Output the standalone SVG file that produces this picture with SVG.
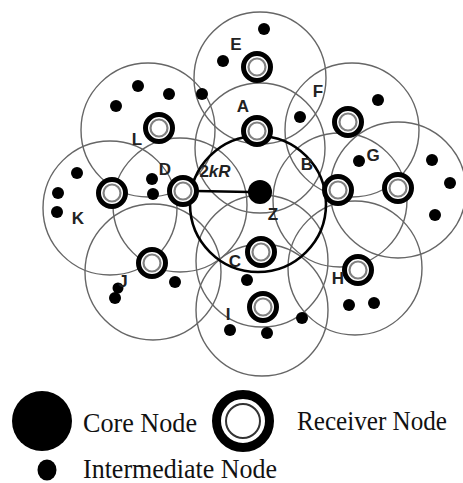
<svg xmlns="http://www.w3.org/2000/svg" xmlns:xlink="http://www.w3.org/1999/xlink" width="463" height="483" viewBox="0 0 463 483">
<style>
.rng{fill:none;stroke:#666;stroke-width:1.4}
.thick{fill:none;stroke:#000;stroke-width:2.6}
.dot{fill:#000}
.lbl{font-family:"Liberation Sans",Arial,sans-serif;font-size:17px;font-weight:bold;fill:#222;text-anchor:middle}
.leg{font-family:"Liberation Serif","Times New Roman",serif;font-size:27px;fill:#111}
</style>
<defs>
<g id="rx">
<circle r="13.5" fill="#fff" stroke="#000" stroke-width="5"/>
<circle r="8.5" fill="#fff" stroke="#808080" stroke-width="2.2"/>
</g>
</defs>
<rect width="463" height="483" fill="#fff"/>
<g id="ranges">
<circle class="rng" cx="260" cy="78" r="66"/>
<circle class="rng" cx="260" cy="148" r="65"/>
<circle class="rng" cx="352" cy="130" r="67"/>
<circle class="rng" cx="148" cy="130" r="67"/>
<circle class="rng" cx="398" cy="190" r="68"/>
<circle class="rng" cx="340" cy="200" r="67"/>
<circle class="rng" cx="180" cy="205" r="67"/>
<circle class="rng" cx="110" cy="208" r="67"/>
<circle class="rng" cx="262" cy="261" r="66"/>
<circle class="rng" cx="153" cy="272" r="68"/>
<circle class="rng" cx="355" cy="268" r="67"/>
<circle class="rng" cx="262" cy="310" r="66"/>
<circle class="thick" cx="258" cy="204" r="68"/>
</g>
<g id="connectors">
<line x1="196" y1="191" x2="250" y2="192" stroke="#000" stroke-width="2.6"/>
</g>
<g id="intermediate">
<circle class="dot" cx="264" cy="29" r="6"/>
<circle class="dot" cx="223" cy="61" r="6"/>
<circle class="dot" cx="138" cy="86" r="6"/>
<circle class="dot" cx="169" cy="94" r="6"/>
<circle class="dot" cx="202" cy="94" r="6"/>
<circle class="dot" cx="116" cy="106" r="6"/>
<circle class="dot" cx="300" cy="117" r="6"/>
<circle class="dot" cx="378" cy="100" r="6"/>
<circle class="dot" cx="359" cy="161" r="6"/>
<circle class="dot" cx="432" cy="160" r="6"/>
<circle class="dot" cx="450" cy="183" r="6"/>
<circle class="dot" cx="435" cy="215" r="6"/>
<circle class="dot" cx="77" cy="173" r="6"/>
<circle class="dot" cx="58" cy="193" r="6"/>
<circle class="dot" cx="57" cy="212" r="6"/>
<circle class="dot" cx="152" cy="179" r="6"/>
<circle class="dot" cx="153" cy="194" r="6"/>
<circle class="dot" cx="175" cy="282" r="6"/>
<circle class="dot" cx="118" cy="288" r="5.5"/>
<circle class="dot" cx="115" cy="298" r="6"/>
<circle class="dot" cx="247" cy="280" r="6"/>
<circle class="dot" cx="230" cy="330" r="6"/>
<circle class="dot" cx="267" cy="333" r="6"/>
<circle class="dot" cx="302" cy="318" r="6"/>
<circle class="dot" cx="349" cy="305" r="6"/>
<circle class="dot" cx="374" cy="303" r="6"/>
</g>
<g id="node-Z"><circle cx="260" cy="192" r="12" fill="#000"/><text class="lbl" x="273" y="220">Z</text></g>
<g id="node-E"><use xlink:href="#rx" x="257" y="67"/><text class="lbl" x="236" y="50">E</text></g>
<g id="node-A"><use xlink:href="#rx" x="257" y="131"/><text class="lbl" x="243" y="112">A</text></g>
<g id="node-F"><use xlink:href="#rx" x="348" y="122"/><text class="lbl" x="318" y="97">F</text></g>
<g id="node-L"><use xlink:href="#rx" x="159" y="128"/><text class="lbl" x="137" y="145">L</text></g>
<g id="node-G"><use xlink:href="#rx" x="398" y="188"/><text class="lbl" x="373" y="161">G</text></g>
<g id="node-B"><use xlink:href="#rx" x="338" y="190"/><text class="lbl" x="307" y="170">B</text></g>
<g id="node-D"><use xlink:href="#rx" x="183" y="191"/><text class="lbl" x="165" y="175">D</text><text class="lbl" x="215" y="177">2<tspan font-style="italic">kR</tspan></text></g>
<g id="node-K"><use xlink:href="#rx" x="112" y="193"/><text class="lbl" x="78" y="224">K</text></g>
<g id="node-C"><use xlink:href="#rx" x="261" y="252"/><text class="lbl" x="235" y="267">C</text></g>
<g id="node-J"><use xlink:href="#rx" x="152" y="263"/><text class="lbl" x="123" y="287">J</text></g>
<g id="node-H"><use xlink:href="#rx" x="358" y="270"/><text class="lbl" x="338" y="284">H</text></g>
<g id="node-I"><use xlink:href="#rx" x="263" y="307"/><text class="lbl" x="228" y="320">I</text></g>
<g id="legend">
<circle cx="42" cy="421" r="30" fill="#000"/>
<text class="leg" x="83" y="432" textLength="114" lengthAdjust="spacingAndGlyphs">Core Node</text>
<circle cx="243" cy="421" r="26.5" fill="#fff" stroke="#000" stroke-width="9"/>
<circle cx="243" cy="421" r="17" fill="#fff" stroke="#333" stroke-width="2"/>
<text class="leg" x="297" y="430" textLength="150" lengthAdjust="spacingAndGlyphs">Receiver Node</text>
<ellipse cx="47" cy="470" rx="9.5" ry="10.5" fill="#000"/>
<text class="leg" x="83" y="478" textLength="194" lengthAdjust="spacingAndGlyphs">Intermediate Node</text>
</g>
</svg>
